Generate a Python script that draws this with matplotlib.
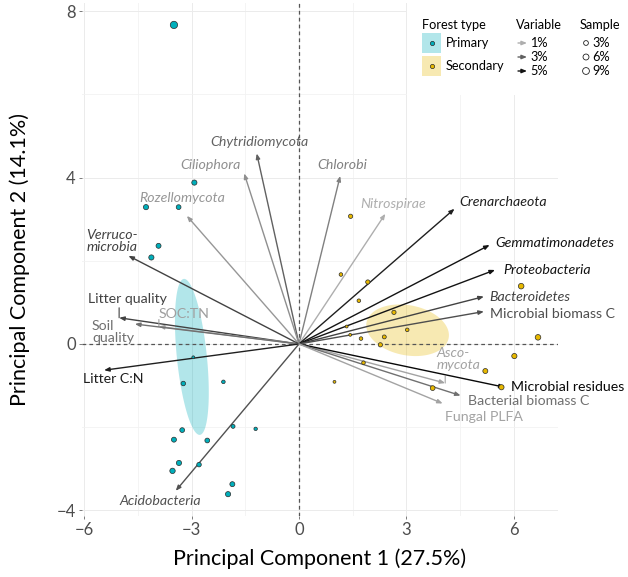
import numpy as np
import matplotlib
matplotlib.use('Agg')
import matplotlib.pyplot as plt
from matplotlib.patches import Polygon, Rectangle

plt.rcParams['font.family'] = ['Lato', 'DejaVu Sans']

# Muestras (coordenadas PCA) y contribución (%)
prim_x = [-3.49, -2.92, -4.27, -3.36, -3.92, -4.12, -2.95, -3.23, -2.11, -1.84,
          -1.21, -3.26, -3.49, -2.56, -3.35, -3.53, -2.79, -1.86, -1.98]
prim_y = [7.67, 3.88, 3.29, 3.29, 2.36, 2.08, -0.32, -0.95, -0.91, -1.98,
          -2.04, -2.07, -2.30, -2.32, -2.86, -3.05, -2.90, -3.37, -3.61]
prim_pct = [11, 4, 4, 3, 3.5, 4, 0.3, 2.5, 1, 1.5,
            0.8, 3, 3.5, 3, 4, 4.5, 2.5, 3.5, 4]

sec_x = [1.44, 1.17, 1.92, 1.67, 2.65, 3.02, 6.20, 6.67, 2.38, 1.73,
         2.27, 6.01, 5.20, 1.80, 0.99, 3.73, 5.65, 1.33, 1.43]
sec_y = [3.07, 1.67, 1.49, 1.04, 0.76, 0.34, 1.39, 0.16, 0.17, 0.13,
         -0.02, -0.29, -0.65, -0.45, -0.91, -1.06, -1.04, 0.42, 0.22]
sec_pct = [2, 1, 2, 1, 2, 1, 5, 5, 1.5, 1,
           2, 4, 3.5, 1, 0.3, 3, 4, 0.3, 0.3]

# Elipses (centro y covarianza)
prim_centro = (-2.99, -0.31)
prim_cov = [[0.223, -0.404], [-0.404, 3.517]]
sec_centro = (3.03, 0.33)
sec_cov = [[1.331, -0.138], [-0.138, 0.385]]

# Variables
var_nombres = ['Chytridiomycota', 'Ciliophora', 'Rozellomycota', 'Verruco-\nmicrobia',
               'Litter quality', 'SOC:TN', 'Soil\nquality', 'Litter C:N', 'Acidobacteria',
               'Chlorobi', 'Nitrospirae', 'Crenarchaeota', 'Gemmatimonadetes',
               'Proteobacteria', 'Bacteroidetes', 'Microbial biomass C', 'Asco-\nmycota',
               'Microbial residues', 'Bacterial biomass C', 'Fungal PLFA']
var_x = [-1.18, -1.53, -3.13, -4.76, -5.02, -3.91, -4.58, -5.44, -3.44,
         1.15, 2.41, 4.34, 5.32, 5.47, 5.16, 5.16, 4.08, 5.74, 4.51, 4.01]
var_y = [4.58, 4.10, 3.08, 2.12, 0.63, 0.42, 0.48, -0.63, -3.53,
         4.04, 3.13, 3.25, 2.38, 1.78, 1.14, 0.78, -0.94, -1.04, -1.24, -1.43]
var_contrib = [3.0, 1.8, 1.6, 3.8, 3.8, 1.4, 2.6, 4.7, 3.4,
               2.2, 1.0, 4.7, 5.0, 5.0, 3.8, 3.5, 1.3, 5.3, 2.6, 1.3]
var_italica = [True, True, True, True, False, False, False, False, True,
               True, True, True, True, True, True, False, True, False, False, False]

# posición de etiquetas (offset en píxeles desde la punta, alineación)
etiquetas = {
    'Chytridiomycota': (3, 11, 'center'),
    'Ciliophora': (-34, 8, 'center'),
    'Rozellomycota': (-5, 18, 'center'),
    'Verruco-\nmicrobia': (-42, 15, 'left'),
    'Litter quality': (8, 19, 'center'),
    'SOC:TN': (25, 13, 'center'),
    'Soil\nquality': (-43, -8, 'left'),
    'Litter C:N': (9, -9, 'center'),
    'Acidobacteria': (-15, -10, 'center'),
    'Chlorobi': (2, 11, 'center'),
    'Nitrospirae': (8, 10, 'center'),
    'Crenarchaeota': (5, 7, 'left'),
    'Gemmatimonadetes': (6, 2, 'left'),
    'Proteobacteria': (8, 0, 'left'),
    'Bacteroidetes': (5, 0, 'left'),
    'Microbial biomass C': (6, -2, 'left'),
    'Asco-\nmycota': (-9, 24, 'left'),
    'Microbial residues': (6, 0, 'left'),
    'Bacterial biomass C': (7, -5, 'left'),
    'Fungal PLFA': (2, -14, 'left'),
}
guias = {'Litter quality': 10, 'SOC:TN': 7, 'Asco-\nmycota': 7}

col_prim = '#00AFBB'
col_sec = '#E7B800'


def tamaño(pct):
    d = 2.0 + 1.6 * np.sqrt(np.asarray(pct, dtype=float))
    return (d * 0.72) ** 2


def gris(v):
    g = float(np.interp(v, [0.5, 5.5], [0.76, 0.0]))
    return (g, g, g)


def elipse(centro, cov, n=200):
    vals, vecs = np.linalg.eigh(np.array(cov))
    t = np.linspace(0, 2 * np.pi, n)
    circ = np.vstack([np.cos(t), np.sin(t)])
    pts = vecs @ (np.sqrt(vals)[:, None] * circ)
    return np.column_stack([pts[0] + centro[0], pts[1] + centro[1]])


W, H = 628, 577
fig = plt.figure(figsize=(W / 100, H / 100), dpi=100)
ax = fig.add_axes([82 / W, 1 - 516 / H, 476 / W, 513 / H])
ax.set_xlim(-6.056, 7.228)
ax.set_ylim(-4.135, 8.197)

for s in ax.spines.values():
    s.set_visible(False)
ax.set_xticks([-6, -3, 0, 3, 6])
ax.set_yticks([-4, 0, 4, 8])
ax.set_xticks([-4.5, -1.5, 1.5, 4.5], minor=True)
ax.set_yticks([-2, 2, 6], minor=True)
ax.grid(True, which='major', color='#ebebeb', lw=0.7)
ax.grid(True, which='minor', color='#f2f2f2', lw=0.6)
ax.set_axisbelow(True)
ax.tick_params(which='major', length=2.5, width=0.6, color='#666666',
               labelsize=12, labelcolor='#4d4d4d', pad=2)
ax.tick_params(which='minor', length=0)

ax.add_patch(Polygon(elipse(prim_centro, prim_cov), closed=True, facecolor=col_prim,
                     alpha=0.3, edgecolor='none', zorder=1))
ax.add_patch(Polygon(elipse(sec_centro, sec_cov), closed=True, facecolor=col_sec,
                     alpha=0.3, edgecolor='none', zorder=1))

ax.axhline(0, color='#555555', lw=0.9, ls=(0, (3, 2.5)), zorder=2)
ax.axvline(0, color='#555555', lw=0.9, ls=(0, (3, 2.5)), zorder=2)

for nombre, x, y, c, it in zip(var_nombres, var_x, var_y, var_contrib, var_italica):
    color = gris(c)
    ax.annotate('', xy=(x, y), xytext=(0, 0), zorder=3,
                arrowprops=dict(arrowstyle='-|>,head_length=0.3,head_width=0.12',
                                color=color, lw=1.0, shrinkA=0, shrinkB=0))
    dx, dy, ha = etiquetas[nombre]
    ax.annotate(nombre, xy=(x, y), xytext=(dx, dy), textcoords='offset pixels',
                ha=ha, va='center', fontsize=10.2, color=color, linespacing=0.95,
                fontstyle='italic' if it else 'normal', zorder=5)
    if nombre in guias:
        ax.annotate('', xy=(x, y), xytext=(0, guias[nombre]), textcoords='offset pixels',
                    xycoords='data', zorder=3,
                    arrowprops=dict(arrowstyle='-', color=color, lw=0.8,
                                    shrinkA=0, shrinkB=0))

ax.scatter(prim_x, prim_y, s=tamaño(prim_pct), color=col_prim, edgecolor='#2b2b2b',
           linewidth=0.5, zorder=4)
ax.scatter(sec_x, sec_y, s=tamaño(sec_pct), color=col_sec, edgecolor='#2b2b2b',
           linewidth=0.5, zorder=4)

ax.set_xlabel('Principal Component 1 (27.5%)', fontsize=15.5, labelpad=7)
ax.set_ylabel('Principal Component 2 (14.1%)', fontsize=15.5, labelpad=19)

# Leyenda
lax = fig.add_axes([407 / W, 1 - 95 / H, 221 / W, 95 / H])
lax.set_xlim(407, 628)
lax.set_ylim(95, 0)
lax.set_xticks([])
lax.set_yticks([])
for s in lax.spines.values():
    s.set_visible(False)
lax.set_facecolor('white')

fs = 9.2
lax.text(422, 25, 'Forest type', fontsize=fs, va='center')
for yk, col, txt in [(43, col_prim, 'Primary'), (66, col_sec, 'Secondary')]:
    lax.add_patch(Rectangle((422, yk - 10), 19, 20, facecolor=col, alpha=0.3, edgecolor='none'))
    lax.scatter([431.5], [yk], s=tamaño(2), color=col, edgecolor='#2b2b2b', linewidth=0.5)
    lax.text(446, yk, txt, fontsize=fs, va='center')

lax.text(516, 25, 'Variable', fontsize=fs, va='center')
for yk, v in [(43, 1), (57, 3), (71, 5)]:
    lax.annotate('', xy=(527, yk), xytext=(518, yk),
                 arrowprops=dict(arrowstyle='-|>,head_length=0.3,head_width=0.12',
                                 color=gris(v), lw=1.0, shrinkA=0, shrinkB=0))
    lax.text(530, yk, f'{v}%', fontsize=fs, va='center')

lax.text(580, 25, 'Sample', fontsize=fs, va='center')
for yk, v in [(43, 3), (57, 6), (71, 9)]:
    lax.scatter([586], [yk], s=tamaño(v), facecolor='none', edgecolor='#222222', linewidth=0.6)
    lax.text(592, yk, f'{v}%', fontsize=fs, va='center')

fig.savefig('out.png', dpi=100)
